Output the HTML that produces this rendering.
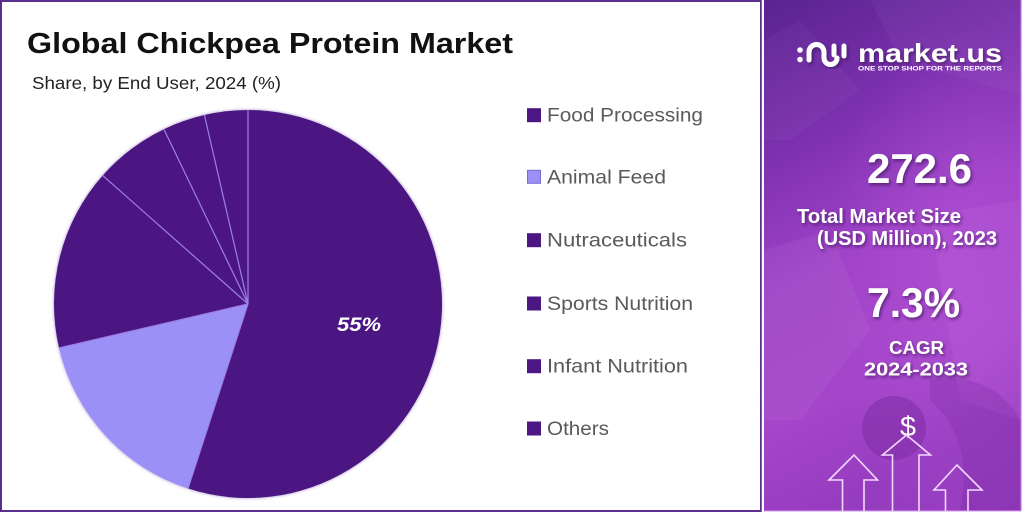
<!DOCTYPE html>
<html>
<head>
<meta charset="utf-8">
<style>
  html,body{margin:0;padding:0;background:#fff;}
  body{width:1024px;height:515px;overflow:hidden;}
  svg{display:block;}
  text{font-family:"Liberation Sans", sans-serif;}
</style>
</head>
<body>
<svg width="1024" height="515" viewBox="0 0 1024 515" xmlns="http://www.w3.org/2000/svg">
  <defs>
    <linearGradient id="pg" x1="0" y1="0" x2="0.25" y2="1">
      <stop offset="0" stop-color="#5a2390"/>
      <stop offset="0.3" stop-color="#7e31b0"/>
      <stop offset="0.55" stop-color="#a042c8"/>
      <stop offset="0.8" stop-color="#a445ca"/>
      <stop offset="1" stop-color="#963cbf"/>
    </linearGradient>
    <radialGradient id="glow" cx="0.75" cy="0.55" r="0.5">
      <stop offset="0" stop-color="#c060e0" stop-opacity="0.35"/>
      <stop offset="1" stop-color="#c060e0" stop-opacity="0"/>
    </radialGradient>
    <filter id="sh" x="-20%" y="-20%" width="140%" height="140%">
      <feDropShadow dx="1.5" dy="2" stdDeviation="1.5" flood-color="#2a0a45" flood-opacity="0.6"/>
    </filter>
    <filter id="psh" x="-10%" y="-10%" width="120%" height="120%">
      <feDropShadow dx="0" dy="0" stdDeviation="1.5" flood-color="#6a3aa8" flood-opacity="0.6"/>
    </filter>
  </defs>

  <!-- left panel border -->
  <rect x="1" y="1" width="760" height="510" fill="#fff" stroke="#5b2e8e" stroke-width="2"/>

  <!-- title -->
  <text x="27" y="53" font-size="29" font-weight="bold" fill="#111" textLength="486" lengthAdjust="spacingAndGlyphs">Global Chickpea Protein Market</text>
  <text x="32" y="89" font-size="17.5" fill="#222" textLength="249" lengthAdjust="spacingAndGlyphs">Share, by End User, 2024 (%)</text>

  <!-- pie -->
  <g filter="url(#psh)">
    <path d="M248 304 L248 110 A194 194 0 1 1 188.05 488.5 Z" fill="#4c1782"/>
    <path d="M248 304 L188.05 488.5 A194 194 0 0 1 59.04 347.97 Z" fill="#9a90f6"/>
    <path d="M248 304 L59.04 347.97 A194 194 0 0 1 102.7 175.5 Z" fill="#4c1782"/>
    <path d="M248 304 L102.7 175.5 A194 194 0 0 1 163.9 129.2 Z" fill="#4c1782"/>
    <path d="M248 304 L163.9 129.2 A194 194 0 0 1 204.4 115 Z" fill="#4c1782"/>
    <path d="M248 304 L204.4 115 A194 194 0 0 1 248 110 Z" fill="#4c1782"/>
  </g>
  <g stroke="#9c80e6" stroke-width="1.2">
    <line x1="248" y1="304" x2="248" y2="110"/>
    <line x1="248" y1="304" x2="188.05" y2="488.5"/>
    <line x1="248" y1="304" x2="59.04" y2="347.97"/>
    <line x1="248" y1="304" x2="102.7" y2="175.5"/>
    <line x1="248" y1="304" x2="163.9" y2="129.2"/>
    <line x1="248" y1="304" x2="204.4" y2="115"/>
  </g>
  <text x="337" y="331" font-size="19" font-weight="bold" font-style="italic" fill="#fff" textLength="44" lengthAdjust="spacingAndGlyphs">55%</text>

  <!-- legend -->
  <g font-size="19.5" fill="#5a5a5a">
    <rect x="527" y="108.2" width="14" height="14" fill="#4c1782"/>
    <text x="547" y="121.7" textLength="156" lengthAdjust="spacingAndGlyphs">Food Processing</text>
    <rect x="527.5" y="170.3" width="13" height="13" fill="#9a90f6" stroke="#7a6ad8" stroke-width="1"/>
    <text x="547" y="183.5" textLength="119" lengthAdjust="spacingAndGlyphs">Animal Feed</text>
    <rect x="527" y="233.2" width="14" height="14" fill="#4c1782"/>
    <text x="547" y="246.7" textLength="140" lengthAdjust="spacingAndGlyphs">Nutraceuticals</text>
    <rect x="527" y="296.5" width="14" height="14" fill="#4c1782"/>
    <text x="547" y="310" textLength="146" lengthAdjust="spacingAndGlyphs">Sports Nutrition</text>
    <rect x="527" y="359.2" width="14" height="14" fill="#4c1782"/>
    <text x="547" y="372.7" textLength="141" lengthAdjust="spacingAndGlyphs">Infant Nutrition</text>
    <rect x="527" y="421.5" width="14" height="14" fill="#4c1782"/>
    <text x="547" y="435" textLength="62" lengthAdjust="spacingAndGlyphs">Others</text>
  </g>

  <!-- right panel -->
  <rect x="764" y="0" width="257" height="511" fill="url(#pg)"/>
  <rect x="764" y="0" width="257" height="511" fill="url(#glow)"/>
  <polygon points="870,0 1021,0 1021,95 900,60" fill="#ffffff" opacity="0.04"/>
  <polygon points="930,215 1021,200 1021,420 960,400" fill="#d070e8" opacity="0.15"/>
  <polygon points="764,250 830,230 870,330 800,420 764,420" fill="#ffffff" opacity="0.05"/>
  <polygon points="764,40 800,20 860,90 790,140 764,140" fill="#ffffff" opacity="0.03"/>
  <circle cx="894" cy="428" r="32" fill="#7a2aa2" opacity="0.5"/>
  <path d="M930 380 Q990 370 1021 420 L1021 511 L960 511 Q975 440 930 400 Z" fill="#6a2090" opacity="0.2"/>
  <line x1="762.5" y1="0" x2="762.5" y2="512" stroke="#fff" stroke-width="1.5"/>
  <line x1="1021" y1="0" x2="1021" y2="511" stroke="#c27ae0" stroke-width="1.2"/>
  <line x1="764" y1="510.8" x2="1021" y2="510.8" stroke="#c27ae0" stroke-width="1.2"/>

  <!-- logo -->
  <g fill="none" stroke="#fff" stroke-width="5" stroke-linecap="round" filter="url(#sh)">
    <path d="M809 60 L809 52 A7.5 7.5 0 0 1 824 52 L824 58 A6.5 6.5 0 0 0 837 58"/>
    <line x1="834" y1="46" x2="834" y2="55"/>
    <line x1="844" y1="46" x2="844" y2="56"/>
  </g>
  <circle cx="800" cy="50" r="2.8" fill="#fff"/>
  <circle cx="800" cy="59.5" r="2.8" fill="#fff"/>
  <text x="858" y="62" font-size="26" font-weight="bold" fill="#fff" textLength="144" lengthAdjust="spacingAndGlyphs" filter="url(#sh)">market.us</text>
  <text x="858" y="70.5" font-size="6.8" font-weight="bold" fill="#fff" textLength="144" lengthAdjust="spacingAndGlyphs">ONE STOP SHOP FOR THE REPORTS</text>

  <!-- stats -->
  <g fill="#fff" font-weight="bold" filter="url(#sh)">
    <text x="867" y="183" font-size="42" textLength="105" lengthAdjust="spacingAndGlyphs">272.6</text>
    <text x="797" y="223" font-size="20.5" textLength="164" lengthAdjust="spacingAndGlyphs">Total Market Size</text>
    <text x="817" y="245" font-size="20.5" textLength="180" lengthAdjust="spacingAndGlyphs">(USD Million), 2023</text>
    <text x="867" y="317" font-size="42" textLength="93" lengthAdjust="spacingAndGlyphs">7.3%</text>
    <text x="889" y="354" font-size="18" textLength="55" lengthAdjust="spacingAndGlyphs">CAGR</text>
    <text x="864" y="375.5" font-size="18" textLength="104" lengthAdjust="spacingAndGlyphs">2024-2033</text>
  </g>
  <text x="900" y="436" font-size="28" fill="#fff" textLength="16" lengthAdjust="spacingAndGlyphs">$</text>

  <!-- arrows -->
  <g fill="none" stroke="#f4d8ff" stroke-width="1.6" stroke-linejoin="miter">
    <path d="M842.5 511 L842.5 480 L829 480 L854 455 L877.5 480 L864 480 L864 511"/>
    <path d="M892.5 511 L892.5 455 L882.5 455 L906.5 435 L930.5 455 L919 455 L919 511"/>
    <path d="M945.5 511 L945.5 490 L934 490 L957 465 L982 490 L968 490 L968 511"/>
  </g>
</svg>
</body>
</html>
